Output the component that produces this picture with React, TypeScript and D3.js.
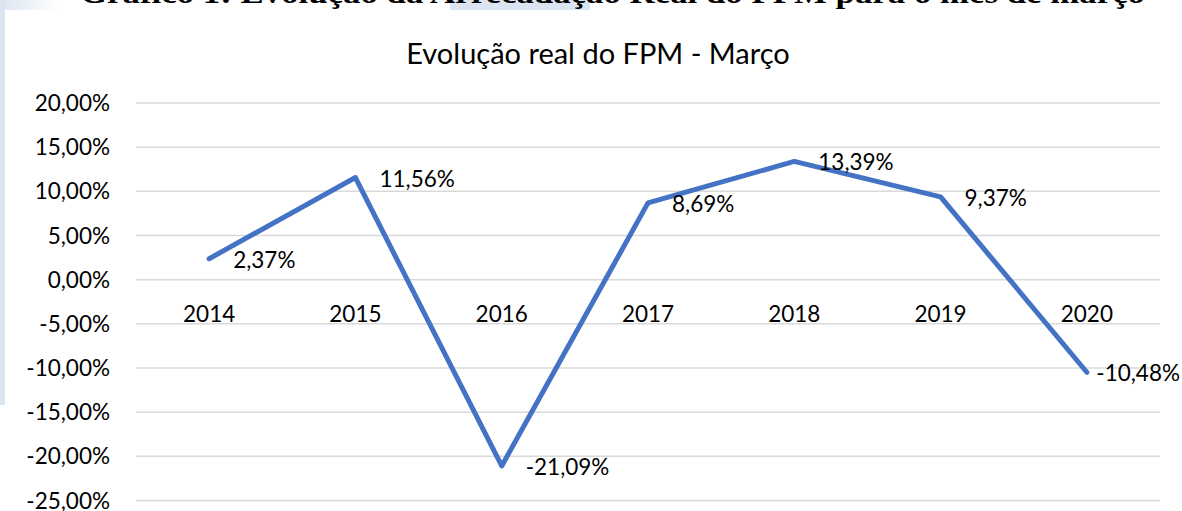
import * as d3 from 'd3';

const years = ['2014', '2015', '2016', '2017', '2018', '2019', '2020'];
const values = [2.37, 11.56, -21.09, 8.69, 13.39, 9.37, -10.48];
const yTicks = [20, 15, 10, 5, 0, -5, -10, -15, -20, -25];

const W = 1182;
const H = 511;
const FONT = 'Lato, "Noto Sans", sans-serif';
const FS = 22.5;
const pct = (v: number) => v.toFixed(2).replace('.', ',') + '%';

const App = () => {
  const x = d3.scaleBand<string>().domain(years).range([136, 1160]);
  const y = d3.scaleLinear().domain([-25, 20]).range([500.5, 103]);
  const cx = (i: number) => (x(years[i]) ?? 0) + x.bandwidth() / 2;

  const line = d3
    .line<number>()
    .x((_, i) => cx(i))
    .y(d => y(d));

  // rough label width, used to keep the last label inside the chart like Excel does
  const labelW = (s: string) => s.length * FS * 0.55;

  return (
    <svg
      width={W}
      height={H}
      style={{ position: 'absolute', left: 0, top: 0, background: '#fff' }}
    >
      <defs>
        <linearGradient id="fade" x1="0" x2="1" y1="0" y2="0">
          <stop offset="0" stopColor="#dbe5f1" />
          <stop offset="1" stopColor="#dbe5f1" stopOpacity="0" />
        </linearGradient>
      </defs>
      {/* page background around the pasted chart */}
      <rect x={0} y={0} width={5} height={405} fill="#dbe5f1" />
      <rect x={0} y={0} width={60} height={10} fill="url(#fade)" />
      <rect x={450} y={0} width={140} height={10} fill="#dbe5f1" />
      <text
        x={80}
        y={3}
        textLength={1065}
        lengthAdjust="spacingAndGlyphs"
        fontFamily='"Liberation Serif", "Times New Roman", serif'
        fontWeight="bold"
        fontSize={30}
        fill="#000"
      >
        Gráfico 1: Evolução da Arrecadação Real do FPM para o mês de março
      </text>
      <rect x={5} y={10} width={W - 5} height={H - 10} fill="#fff" />

      <text x={598} y={64} textAnchor="middle" fontFamily={FONT} fontSize={29} fill="#000">
        Evolução real do FPM - Março
      </text>

      {yTicks.map(t => (
        <g key={t}>
          <line x1={136} x2={1160} y1={y(t)} y2={y(t)} stroke="#d9d9d9" strokeWidth={1.5} />
          <text
            x={110}
            y={y(t)}
            dy="0.36em"
            textAnchor="end"
            fontFamily={FONT}
            fontSize={FS}
            fill="#000"
          >
            {pct(t)}
          </text>
        </g>
      ))}

      {years.map((yr, i) => (
        <text
          key={yr}
          x={cx(i)}
          y={322}
          textAnchor="middle"
          fontFamily={FONT}
          fontSize={FS}
          fill="#000"
        >
          {yr}
        </text>
      ))}

      <path
        d={line(values) ?? ''}
        fill="none"
        stroke="#4472c4"
        strokeWidth={5}
        strokeLinejoin="round"
        strokeLinecap="round"
      />

      {values.map((v, i) => {
        const s = pct(v);
        const fits = cx(i) + 24 + labelW(s) <= 1180;
        return (
          <text
            key={i}
            x={fits ? cx(i) + 24 : 1180}
            y={y(v) + 9}
            textAnchor={fits ? 'start' : 'end'}
            fontFamily={FONT}
            fontSize={FS}
            fill="#000"
          >
            {s}
          </text>
        );
      })}
    </svg>
  );
};

export default App;
